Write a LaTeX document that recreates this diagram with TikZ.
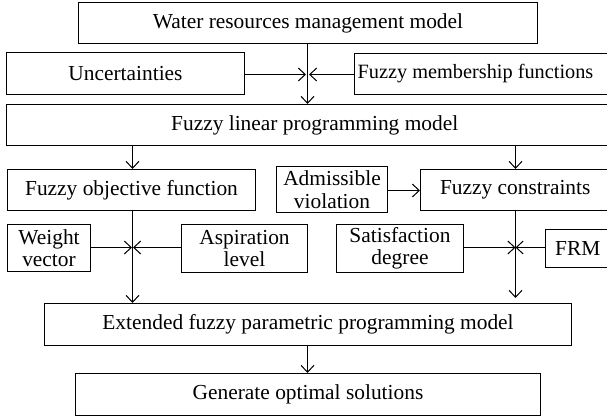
\documentclass[tikz,border=0pt]{standalone}
\usepackage{fontspec}
\setmainfont{Liberation Serif}
\usetikzlibrary{arrows.meta}
\begin{document}
\begin{tikzpicture}[x=1pt,y=-1pt,
  box/.style={draw, line width=1pt, inner sep=0pt, align=center,
    font=\fontsize{21.4}{22.5}\selectfont},
  arr/.style={-{Straight Barb[length=7pt,width=13pt,line width=1pt]}, line width=1pt}]
\useasboundingbox (0,0) rectangle (607,417);
% boxes
\node[box, minimum width=459pt, minimum height=41pt] (wrm) at (308,23) {Water resources management model};
\node[box, minimum width=238pt, minimum height=42pt] (unc) at (125.5,73.5) {Uncertainties};
\node[box, minimum width=255.5pt, minimum height=41pt, font=\fontsize{20.3}{22}\selectfont] (fmf) at (482.25,74) {\hspace*{-13.5pt}Fuzzy membership functions};
\node[box, minimum width=605.5pt, minimum height=41pt] (flp) at (309.25,125) {\hspace*{10.9pt}Fuzzy linear programming model};
\node[box, minimum width=248pt, minimum height=41pt] (fof) at (131.5,190) {Fuzzy objective function};
\node[box, minimum width=111pt, minimum height=46pt] (adv) at (332,189.5) {Admissible\\violation};
\node[box, minimum width=189.5pt, minimum height=41pt] (fcs) at (515.25,190) {Fuzzy constraints};
\node[box, minimum width=83pt, minimum height=47pt] (wvec) at (49,248) {Weight\\vector};
\node[box, minimum width=126pt, minimum height=48pt] (asp) at (244.5,248.5) {Aspiration\\level};
\node[box, minimum width=127pt, minimum height=48pt] (sat) at (400,248.5) {Satisfaction\\degree};
\node[box, minimum width=64.5pt, minimum height=38pt] (frm) at (577.75,248.5) {FRM};
\node[box, minimum width=527pt, minimum height=42pt] (efp) at (308,324.5) {Extended fuzzy parametric programming model};
\node[box, minimum width=465pt, minimum height=42pt] (gen) at (308,394.5) {Generate optimal solutions};
% junctions
\coordinate (j1) at (307.5,74.5);
\coordinate (j2) at (132.5,247.5);
\coordinate (j3) at (515.5,247.5);
\coordinate (ya) at (0,190.5);
% connectors
\draw[arr] (j1 |- wrm.south) -- (j1 |- flp.north);
\draw[arr, shorten >=1.5pt] (unc.east |- j1) -- (j1);
\draw[arr, shorten >=1.5pt] (fmf.west |- j1) -- (j1);
\draw[arr] (j2 |- flp.south) -- (j2 |- fof.north);
\draw[arr] (j3 |- flp.south) -- (j3 |- fcs.north);
\draw[arr] (adv.east |- ya) -- (fcs.west |- ya);
\draw[arr] (j2 |- fof.south) -- (j2 |- efp.north);
\draw[arr, shorten >=0.5pt] (wvec.east |- j2) -- (j2);
\draw[arr, shorten >=0.5pt] (asp.west |- j2) -- (j2);
\draw[arr, shorten >=5pt] (j3 |- fcs.south) -- (j3 |- efp.north);
\draw[arr] (sat.east |- j3) -- (j3);
\draw[arr] (frm.west |- j3) -- (j3);
\draw[arr] (j1 |- efp.south) -- (j1 |- gen.north);
\end{tikzpicture}
\end{document}
